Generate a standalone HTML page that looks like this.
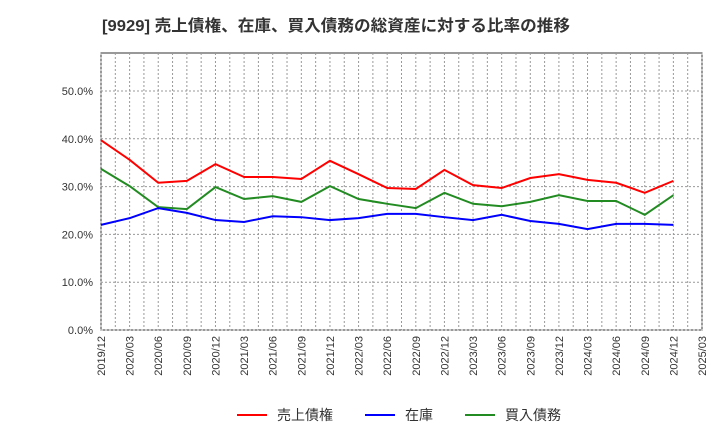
<!DOCTYPE html>
<html><head><meta charset="utf-8"><style>
body{margin:0;background:#fff;font-family:"Liberation Sans","Noto Sans CJK JP",sans-serif;}
svg text{font-family:"Liberation Sans","Noto Sans CJK JP",sans-serif;}
</style></head><body>
<svg id="chart" width="720" height="440" xmlns="http://www.w3.org/2000/svg">
<text x="102" y="31" font-size="16" font-weight="bold" fill="#333" textLength="468" lengthAdjust="spacingAndGlyphs">[9929]  売上債権、在庫、買入債務の総資産に対する比率の推移</text>
<g id="grid"></g><g id="axes"></g><g id="series"></g>
<g>
<line x1="237" y1="415" x2="267" y2="415" stroke="#f00" stroke-width="2"/>
<text x="277" y="420" font-size="14" fill="#333">売上債権</text>
<line x1="365" y1="415" x2="395" y2="415" stroke="#00f" stroke-width="2"/>
<text x="405" y="420" font-size="14" fill="#333">在庫</text>
<line x1="465" y1="415" x2="495" y2="415" stroke="#228b22" stroke-width="2"/>
<text x="505" y="420" font-size="14" fill="#333">買入債務</text>
</g>
</svg>
<script>
const categories=["2019/12","2020/03","2020/06","2020/09","2020/12","2021/03","2021/06","2021/09","2021/12","2022/03","2022/06","2022/09","2022/12","2023/03","2023/06","2023/09","2023/12","2024/03","2024/06","2024/09","2024/12","2025/03"];
const receivables=[39.7,35.6,30.8,31.2,34.7,32.0,32.0,31.6,35.4,32.6,29.7,29.5,33.5,30.3,29.7,31.8,32.6,31.4,30.8,28.7,31.2];
const inventory=[22.0,23.4,25.5,24.5,23.0,22.6,23.8,23.6,23.0,23.4,24.3,24.3,23.6,23.0,24.1,22.8,22.2,21.1,22.2,22.2,22.0];
const payables=[33.7,30.1,25.7,25.3,29.9,27.4,28.0,26.8,30.1,27.4,26.4,25.5,28.7,26.4,25.9,26.8,28.2,27.0,27.0,24.1,28.2];
const yTicks=[0,10,20,30,40,50];
const NS="http://www.w3.org/2000/svg";
const L=101,R=702,T=53,B=330;
const x=i=>L+i*(R-L)/(categories.length-1);
const y=v=>B-v*(B-91)/50;
function mk(p,t,a){const e=document.createElementNS(NS,t);for(const k in a)e.setAttribute(k,a[k]);p.appendChild(e);return e;}
const grid=document.getElementById('grid'),axes=document.getElementById('axes'),ser=document.getElementById('series');
mk(grid,'rect',{x:L,y:T,width:R-L,height:B-T,fill:'#fff',stroke:'#333','stroke-width':1});
categories.forEach((c,i)=>{
  const g=mk(grid,'line',{x1:x(i),x2:x(i),y1:T,y2:B,stroke:'#999','stroke-dasharray':'2,2','stroke-width':1});
  
  
  if(i<categories.length-1){
    const m=mk(grid,'line',{x1:(x(i)+x(i+1))/2,x2:(x(i)+x(i+1))/2,y1:T,y2:B,stroke:'#999','stroke-dasharray':'2,2','stroke-width':1});
    
    
  }
  const t=mk(axes,'text',{transform:`translate(${x(i)+4},${B+6}) rotate(-90)`,'font-size':11,fill:'#333','text-anchor':'end'});
  t.textContent=c;
  
  
});
yTicks.forEach(v=>{
  const g=mk(grid,'line',{x1:L,x2:R,y1:y(v),y2:y(v),stroke:'#999','stroke-dasharray':'2,2','stroke-width':1});
  
  
  const t=mk(axes,'text',{x:L-8,y:y(v)+4,'font-size':11,fill:'#333','text-anchor':'end'});
  t.textContent=v.toFixed(1)+'%';
  
  
});
[[receivables,'#f00','receivables-line'],[payables,'#228b22','payables-line'],[inventory,'#00f','inventory-line']].forEach(([d,c,n])=>{
  const p=mk(ser,'polyline',{points:d.map((v,i)=>x(i)+','+y(v)).join(' '),fill:'none',stroke:c,'stroke-width':2});
  
  
});
</script>
</body></html>
